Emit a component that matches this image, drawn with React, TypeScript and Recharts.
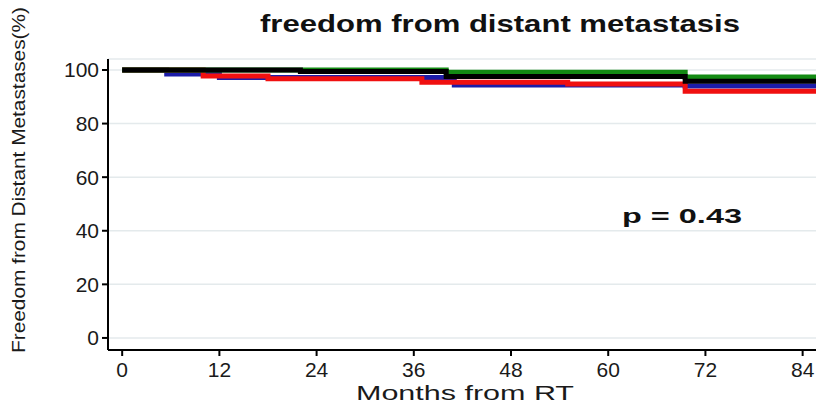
import React from 'react';
import { LineChart, Line, XAxis, YAxis, CartesianGrid } from 'recharts';

const monthTicks = [0, 12, 24, 36, 48, 60, 72, 84];
const pctTicks = [0, 20, 40, 60, 80, 100];

const blackMonths = [0, 22, 40, 69.5, 86];
const blackValues = [100, 99.4, 97.6, 95.8, 95.8];

const greenMonths = [0, 40, 69.5, 86];
const greenValues = [100, 99.2, 97.4, 97.4];

const blueMonths = [0, 5.5, 12, 41, 69.5, 86];
const blueValues = [100, 98.5, 97.2, 94.4, 94.0, 94.0];

const redMonths = [0, 10, 18, 37, 55, 69.5, 86];
const redValues = [100, 97.8, 96.7, 95.4, 94.8, 92.1, 92.1];

const titleText = 'freedom from distant metastasis';
const pValueText = 'p = 0.43';
const xTitle = 'Months from RT';
const yTitle = 'Freedom from Distant Metastases(%)';

const toSeries = (m: number[], v: number[]) => m.map((x, i) => ({ month: x, value: v[i] }));

const blackData = toSeries(blackMonths, blackValues);
const greenData = toSeries(greenMonths, greenValues);
const blueData = toSeries(blueMonths, blueValues);
const redData = toSeries(redMonths, redValues);

const FONT = '"Liberation Sans", Arial, sans-serif';

export default function App() {
  return (
    <div style={{ position: 'absolute', left: 0, top: 0, width: 816, height: 406, background: '#fff', overflow: 'hidden' }}>
      <LineChart
        width={816}
        height={406}
        margin={{ top: 59, right: 0, bottom: 6, left: 48 }}
      >
        <CartesianGrid horizontal vertical={false} stroke="#e4eaec" strokeWidth={1.5} />
        <XAxis
          type="number"
          dataKey="month"
          domain={[-1.75, 85.65]}
          allowDataOverflow
          ticks={monthTicks}
          interval={0}
          height={50}
          tickSize={6}
          tickMargin={6}
          axisLine={{ stroke: '#000', strokeWidth: 2 }}
          tickLine={{ stroke: '#000', strokeWidth: 2 }}
          tick={{ fill: '#1a1a1a', fontSize: 21, fontFamily: FONT }}
        />
        <YAxis
          type="number"
          domain={[-4.5, 104.1]}
          allowDataOverflow
          ticks={pctTicks}
          interval={0}
          width={60}
          tickSize={6}
          tickMargin={3}
          axisLine={{ stroke: '#000', strokeWidth: 2 }}
          tickLine={{ stroke: '#000', strokeWidth: 2 }}
          tick={{ fill: '#1a1a1a', fontSize: 21, fontFamily: FONT }}
        />
        <Line data={blueData} dataKey="value" type="stepAfter" stroke="#1c1ca8" strokeWidth={5} dot={false} isAnimationActive={false} />
        <Line data={redData} dataKey="value" type="stepAfter" stroke="#f01010" strokeWidth={5} dot={false} isAnimationActive={false} />
        <Line data={greenData} dataKey="value" type="stepAfter" stroke="#138a13" strokeWidth={5} dot={false} isAnimationActive={false} />
        <Line data={blackData} dataKey="value" type="stepAfter" stroke="#000" strokeWidth={5} dot={false} isAnimationActive={false} />
      </LineChart>
      <svg width={816} height={406} style={{ position: 'absolute', left: 0, top: 0, pointerEvents: 'none' }}>
        <text x={500} y={32} textAnchor="middle" fontFamily={FONT} fontWeight="bold" fontSize={24} fill="#111" textLength={480} lengthAdjust="spacingAndGlyphs">{titleText}</text>
        <text x={682} y={223} textAnchor="middle" fontFamily={FONT} fontWeight="bold" fontSize={21} fill="#111" textLength={120} lengthAdjust="spacingAndGlyphs">{pValueText}</text>
        <text x={465} y={400} textAnchor="middle" fontFamily={FONT} fontSize={20} fill="#1a1a1a" textLength={218} lengthAdjust="spacingAndGlyphs">{xTitle}</text>
        <text x={0} y={0} transform="translate(25,180) rotate(-90)" textAnchor="middle" fontFamily={FONT} fontSize={19} fill="#1a1a1a" textLength={346} lengthAdjust="spacingAndGlyphs">{yTitle}</text>
      </svg>
    </div>
  );
}
